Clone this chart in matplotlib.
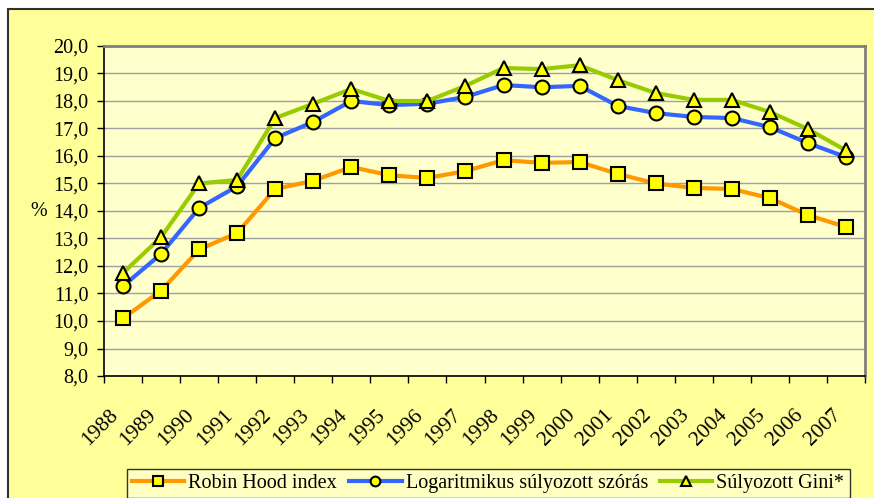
import numpy as np
import matplotlib
matplotlib.use('Agg')
import matplotlib.pyplot as plt
import matplotlib.transforms as mtransforms
from matplotlib.patches import Rectangle

years = [str(y) for y in range(1988, 2008)]
robin_hood = [10.1, 11.1, 12.6, 13.2, 14.8, 15.1, 15.6, 15.3, 15.2, 15.45,
              15.85, 15.75, 15.78, 15.35, 15.0, 14.84, 14.8, 14.47, 13.85, 13.42]
log_szoras = [11.27, 12.44, 14.11, 14.9, 16.65, 17.24, 18.0, 17.85, 17.9, 18.15,
              18.58, 18.5, 18.55, 17.82, 17.56, 17.42, 17.38, 17.05, 16.47, 15.96]
gini = [11.75, 13.05, 15.0, 15.13, 17.38, 17.9, 18.44, 18.0, 18.0, 18.55,
        19.2, 19.16, 19.3, 18.76, 18.29, 18.04, 18.04, 17.6, 16.98, 16.2]
labels = ['Robin Hood index', 'Logaritmikus súlyozott szórás', 'Súlyozott Gini*']

plt.rcParams['font.family'] = ['Liberation Serif', 'DejaVu Serif']
FS = 14.5

fig = plt.figure(figsize=(8.74, 4.98), dpi=100)
fig.patch.set_facecolor('white')
# outer chart frame
fig.patches.append(Rectangle((8 / 874, -0.1), 1.2, 1 - 9 / 498 + 0.1,
                             transform=fig.transFigure, facecolor='#FFFF99',
                             edgecolor='#303030', linewidth=1.5, zorder=-10))

ax = fig.add_axes([104 / 874, 1 - 376 / 498, 761 / 874, 330 / 498])
ax.set_facecolor('#FFFFCC')

x = np.arange(len(years))
style = dict(linewidth=3, markersize=10, markerfacecolor='#FFFF00',
             markeredgecolor='black', markeredgewidth=1.5)
ax.plot(x, robin_hood, color='#FF9900', marker='s', label=labels[0], **style)
ax.plot(x, log_szoras, color='#3366FF', marker='o', label=labels[1], **style)
ax.plot(x, gini, color='#99CC00', marker='^', label=labels[2], **style)

ax.set_xlim(-0.5, len(years) - 0.5)
ax.set_ylim(8, 20)
ax.set_yticks(np.arange(8, 21, 1))
ax.set_yticklabels([f'{v:.1f}'.replace('.', ',') for v in np.arange(8, 21, 1)],
                   fontsize=FS)
ax.yaxis.grid(True, color='#A0A0A0', linewidth=1)
ax.set_axisbelow(True)

ax.set_xticks(x)
ax.set_xticklabels(years, rotation=45, ha='right', rotation_mode='anchor',
                   fontsize=15.5)
ax.set_xticks(np.arange(-0.5, len(years), 1), minor=True)
ax.tick_params(axis='x', which='major', length=0, pad=14)
ax.tick_params(axis='x', which='minor', length=5, width=1, color='black')
ax.tick_params(axis='y', length=5, width=1, color='black', pad=6)

# nudge year labels down-left (after tick_params, which resets transforms)
shift = mtransforms.ScaledTranslation(-14 / 100, -10 / 100, fig.dpi_scale_trans)
for lbl in ax.get_xticklabels():
    lbl.set_transform(lbl.get_transform() + shift)

for side in ('left', 'bottom'):
    ax.spines[side].set_color('black')
    ax.spines[side].set_linewidth(1.2)
for side in ('top', 'right'):
    ax.spines[side].set_color('#808080')
    ax.spines[side].set_linewidth(2)

ax.set_ylabel('%', rotation=0, fontsize=FS, va='center', ha='center')
ax.yaxis.set_label_coords(-65 / 761, 0.5)

leg = fig.legend(loc='lower left', bbox_to_anchor=(127 / 874, 0.0),
                 ncol=3, fontsize=FS, frameon=True, fancybox=False,
                 handlelength=2.6, handletextpad=0.2, columnspacing=0.6,
                 borderaxespad=0.0, borderpad=0.25)
for h in leg.legend_handles:
    h.set_markersize(7)
leg.get_frame().set_edgecolor('black')
leg.get_frame().set_facecolor('#FFFFCC')
leg.get_frame().set_linewidth(1)

fig.savefig('out.png', dpi=100)
